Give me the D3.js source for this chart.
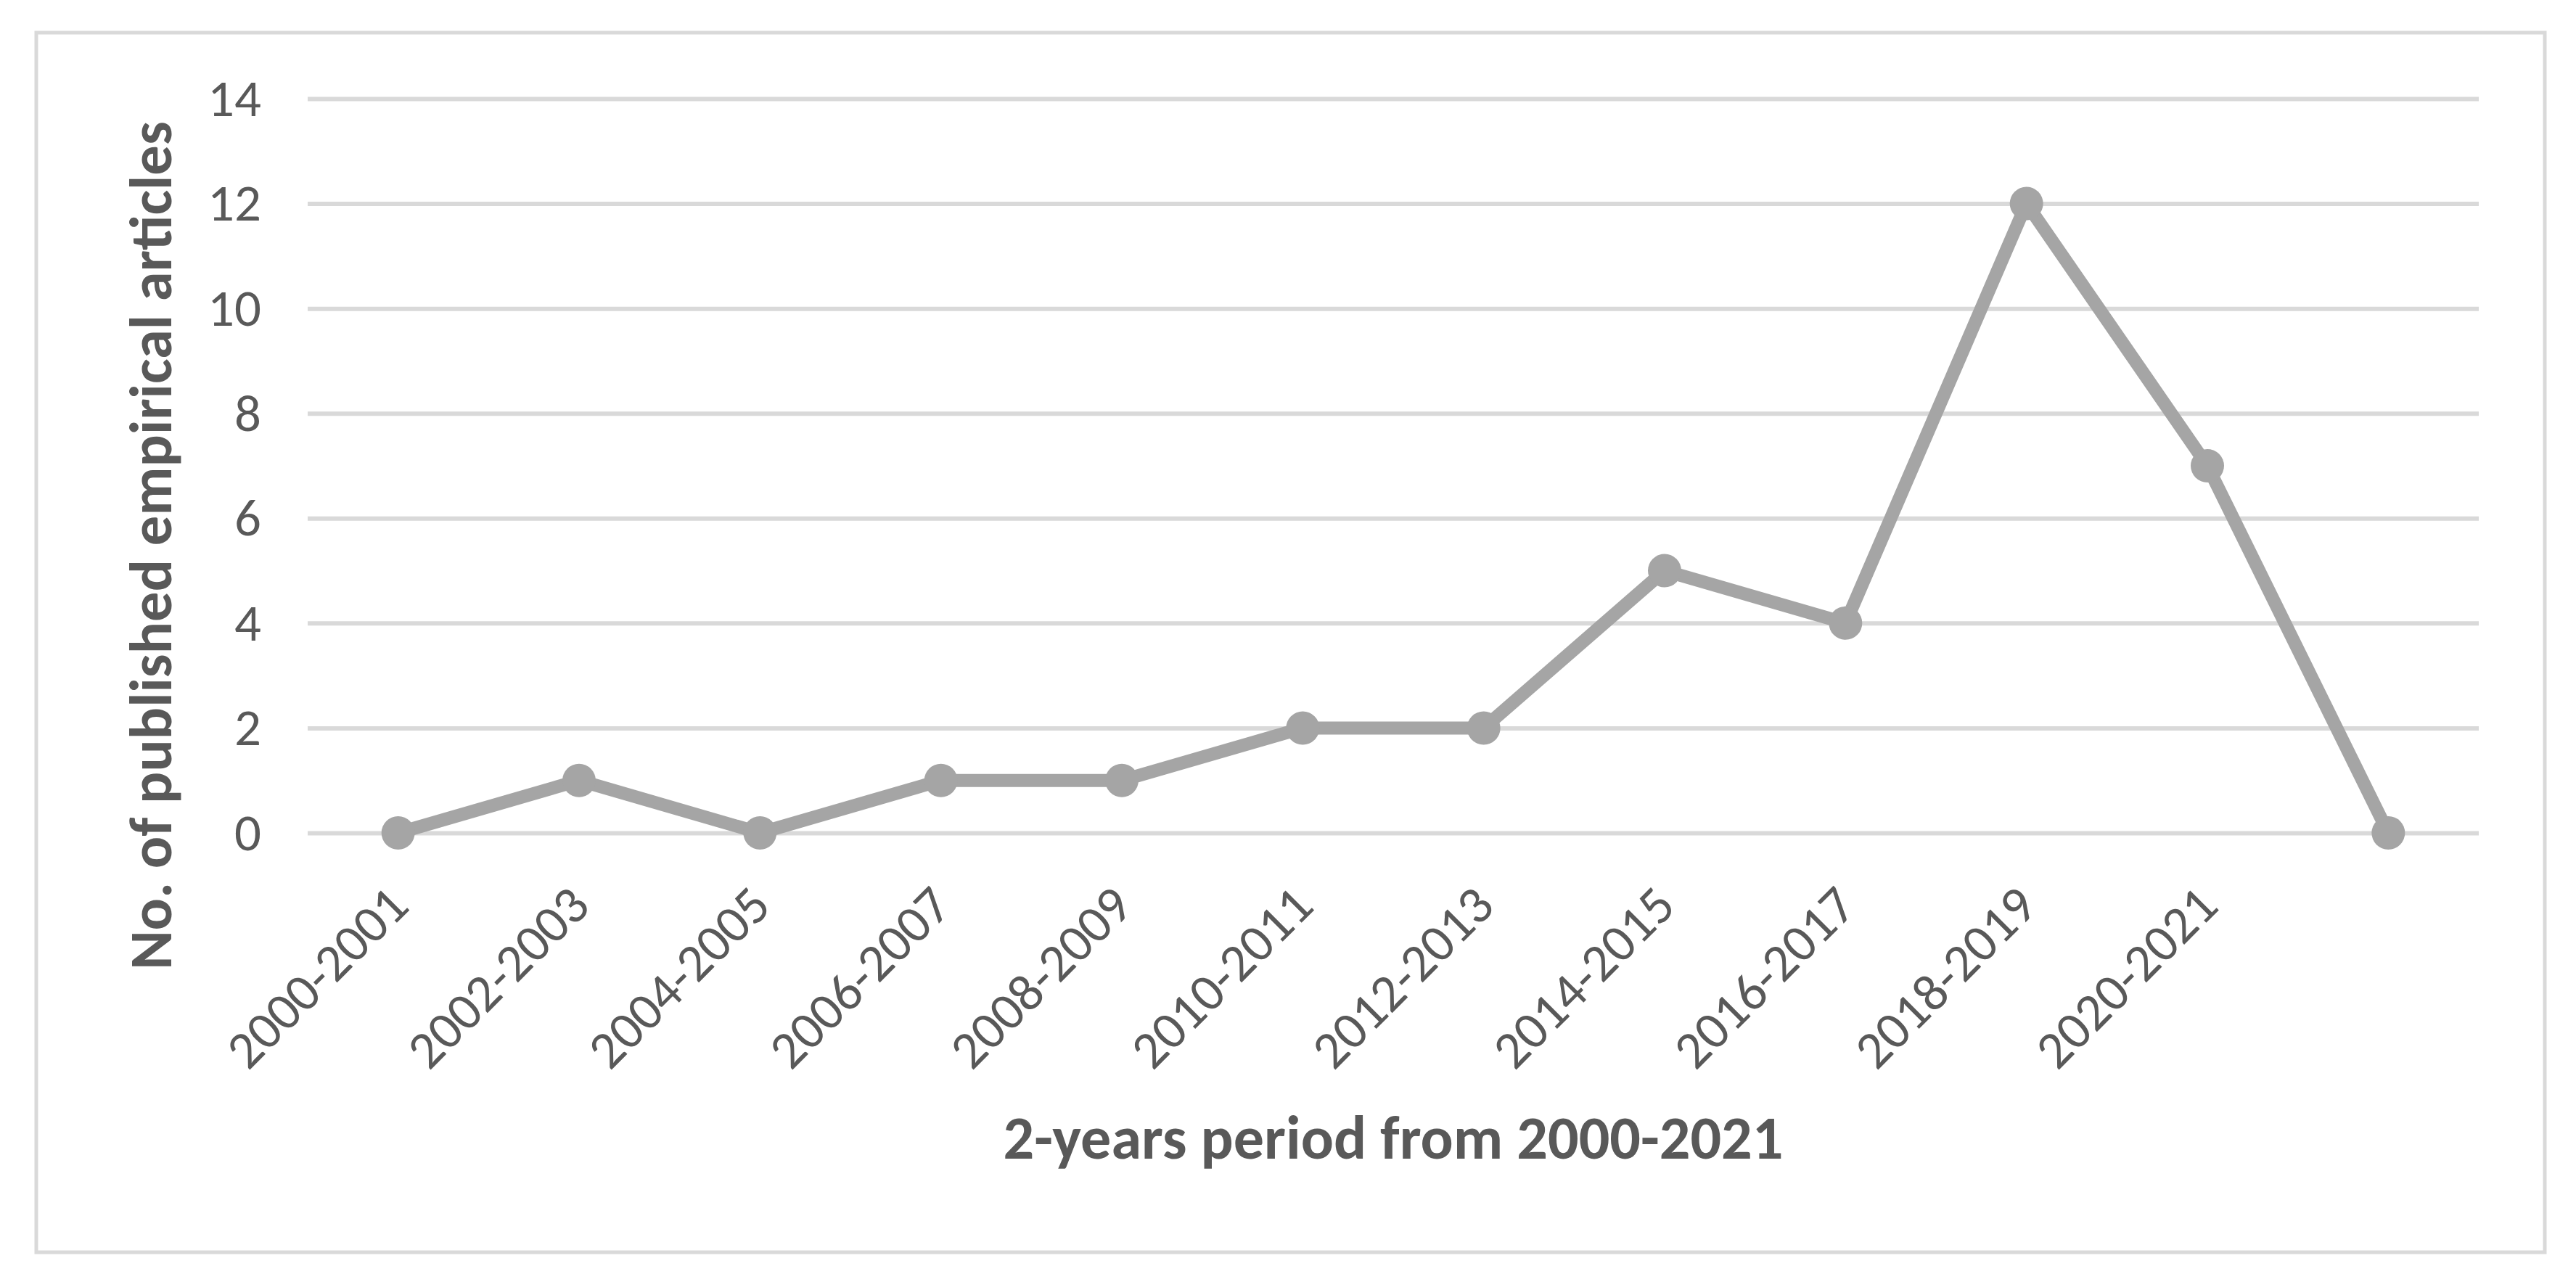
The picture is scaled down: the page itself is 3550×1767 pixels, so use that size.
<!DOCTYPE html>
<html>
<head>
<meta charset="utf-8">
<script src="https://cdn.jsdelivr.net/npm/d3@7"></script>
<style>
  body { margin: 0; background: #fff; }
  svg { display: block; }
</style>
</head>
<body>
<div id="chart"></div>
<script>
var periods = ["2000-2001", "2002-2003", "2004-2005", "2006-2007", "2008-2009", "2010-2011",
	"2012-2013", "2014-2015", "2016-2017", "2018-2019", "2020-2021", ""];
var articles = [0, 1, 0, 1, 1, 2, 2, 5, 4, 12, 7, 0];
var yTicks = [0, 2, 4, 6, 8, 10, 12, 14];

var xTitle = "2-years period from 2000-2021";
var yTitle = "No. of published empirical articles";

var W = 3550, H = 1767;
var font = "Carlito, Calibri, Lato, sans-serif";
var textColor = "#595959";
var gray = "#a5a5a5";
var gridColor = "#d9d9d9";

var svg = d3.select("#chart").append("svg")
	.attr("width", W)
	.attr("height", H);

// font size for the tick labels: make "2000-2001" as long as in the picture
var probe = svg.append("text")
	.attr("font-family", font)
	.attr("font-size", 100)
	.text(periods[0]);
var tickFont = 100 * 318 / probe.node().getComputedTextLength();
probe.remove();

// chart area frame
svg.append("rect")
	.attr("x", 50).attr("y", 45)
	.attr("width", 3457).attr("height", 1681)
	.attr("fill", "#fff")
	.attr("stroke", gridColor)
	.attr("stroke-width", 5);

var x = d3.scaleBand().domain(periods).range([424, 3416]);
var y = d3.scaleLinear().domain([0, 14]).range([1148, 136]);

// y axis + gridlines
var yAxis = svg.append("g")
	.attr("transform", "translate(424,0)")
	.call(d3.axisLeft(y).tickValues(yTicks).tickSize(-(3416 - 424)).tickPadding(64));

yAxis.select(".domain").remove();
yAxis.selectAll(".tick line")
	.attr("stroke", gridColor)
	.attr("stroke-width", 6);
yAxis.selectAll(".tick text")
	.attr("font-family", font)
	.attr("font-size", tickFont)
	.attr("fill", textColor);

// x axis labels, rotated
var xAxis = svg.append("g")
	.attr("transform", "translate(0," + y(0) + ")")
	.call(d3.axisBottom(x).tickSize(0).tickPadding(0));

xAxis.select(".domain").remove();
xAxis.selectAll(".tick text")
	.attr("font-family", font)
	.attr("font-size", tickFont)
	.attr("fill", textColor)
	.attr("text-anchor", "end")
	.attr("y", 0)
	.attr("dy", "0.35em")
	.attr("transform", "translate(0,86) rotate(-45)");

// the line
var line = d3.line()
	.x(function(d, i) { return x(periods[i]) + x.bandwidth() / 2; })
	.y(function(d) { return y(d); });

svg.append("path")
	.datum(articles)
	.attr("d", line)
	.attr("fill", "none")
	.attr("stroke", gray)
	.attr("stroke-width", 18)
	.attr("stroke-linejoin", "round");

svg.selectAll("circle.pt")
	.data(articles)
	.enter()
	.append("circle")
	.attr("class", "pt")
	.attr("cx", function(d, i) { return x(periods[i]) + x.bandwidth() / 2; })
	.attr("cy", function(d) { return y(d); })
	.attr("r", 23)
	.attr("fill", gray);

// scale a title so that it is as long as in the picture
function fitWidth(t, target) {
	var w = t.node().getComputedTextLength();
	var fs = parseFloat(t.attr("font-size"));
	t.attr("font-size", fs * target / w);
}

var xt = svg.append("text")
	.attr("x", (424 + 3416) / 2)
	.attr("y", 1597)
	.attr("text-anchor", "middle")
	.attr("font-family", font)
	.attr("font-weight", "bold")
	.attr("font-size", 80)
	.attr("fill", textColor)
	.text(xTitle);
fitWidth(xt, 1075);

var yt = svg.append("text")
	.attr("transform", "translate(236,752) rotate(-90)")
	.attr("text-anchor", "middle")
	.attr("font-family", font)
	.attr("font-weight", "bold")
	.attr("font-size", 80)
	.attr("fill", textColor)
	.text(yTitle);
fitWidth(yt, 1170);
</script>
</body>
</html>
